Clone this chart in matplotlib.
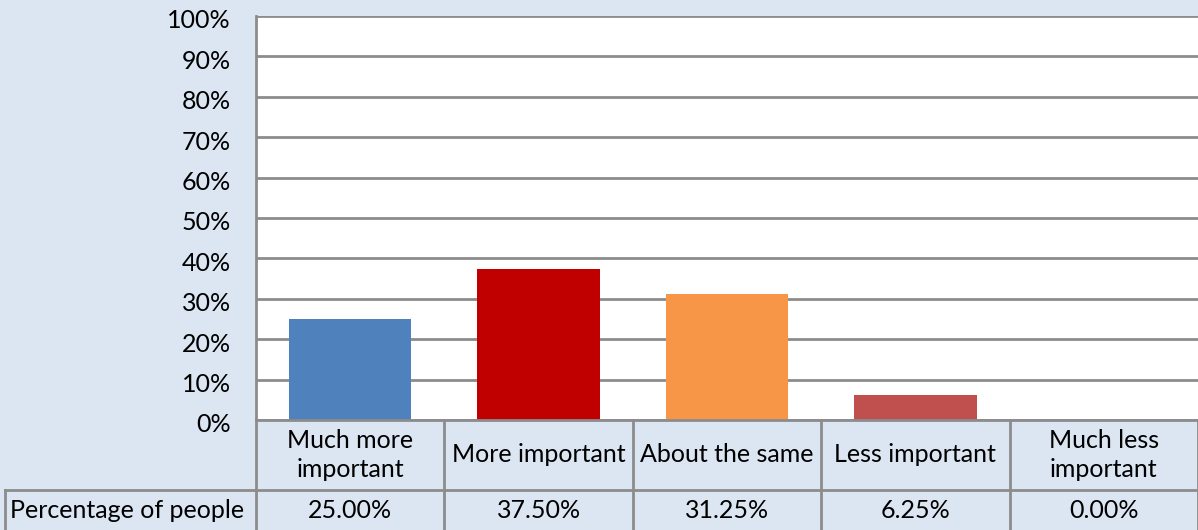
import matplotlib
matplotlib.use("Agg")
import matplotlib.pyplot as plt
import matplotlib.transforms as mtransforms
from matplotlib.lines import Line2D

categories = ["Much more\nimportant", "More important", "About the same", "Less important", "Much less\nimportant"]
values = [25.00, 37.50, 31.25, 6.25, 0.00]
bar_colors = ["#4f81bd", "#c00000", "#f79646", "#c0504d", "#8064a2"]
yticks = [0, 10, 20, 30, 40, 50, 60, 70, 80, 90, 100]
series_name = "Percentage of people"

plt.rcParams['font.family'] = ['Lato', 'DejaVu Sans']

W, H = 1198, 530
bg = "#dce6f2"
grid_c = "#8c8c8c"
fs = 18
fig = plt.figure(figsize=(W/100, H/100), dpi=100, facecolor=bg)

left, right, top, bottom = 256, 1198, 16, 420
ax = fig.add_axes([left/W, 1-bottom/H, (right-left)/W, (bottom-top)/H])
ax.set_facecolor("white")
x = list(range(len(categories)))
ax.bar(x, values, width=0.65, color=bar_colors, zorder=3)
ax.set_xlim(-0.5, len(categories)-0.5)
ax.set_ylim(0, 100)
ax.set_yticks(yticks)
ax.set_yticklabels([f"{v}%" for v in yticks], fontsize=fs)
ax.tick_params(axis='y', length=0, pad=18)
ax.tick_params(axis='x', length=0, labelbottom=False)
ax.yaxis.grid(True, color=grid_c, lw=2, zorder=0)
for s in ["top", "right", "bottom"]:
    ax.spines[s].set_visible(False)
ax.spines["left"].set_color(grid_c)
ax.spines["left"].set_linewidth(2)
shift = mtransforms.ScaledTranslation(0, -3/100, fig.dpi_scale_trans)
for lbl in ax.get_yticklabels():
    lbl.set_transform(lbl.get_transform() + shift)

def fx(px):
    return px / W
def fy(py):
    return 1 - py / H

def hline(x0, x1, y):
    fig.add_artist(Line2D([fx(x0), fx(x1)], [fy(y), fy(y)], color=grid_c, lw=2))
def vline(xp, y0, y1):
    fig.add_artist(Line2D([fx(xp), fx(xp)], [fy(y0), fy(y1)], color=grid_c, lw=2))

col_w = (right - left) / len(categories)
row1_top, row1_bot, row2_bot = 420, 490, 531
hline(left, right, row1_top)
hline(5, right, row1_bot)
vline(5, row1_bot, row2_bot)
for i in range(len(categories) + 1):
    vline(left + i * col_w, row1_top, row2_bot)

for i, (c, v) in enumerate(zip(categories, values)):
    cx = left + (i + 0.5) * col_w
    fig.text(fx(cx), fy((row1_top + row1_bot) / 2), c, ha="center", va="center",
             fontsize=fs, linespacing=1.35)
    fig.text(fx(cx), fy((row1_bot + 530) / 2), f"{v:.2f}%", ha="center", va="center",
             fontsize=fs)
fig.text(fx(10), fy((row1_bot + 530) / 2), series_name, ha="left", va="center", fontsize=fs)

fig.savefig("out.png", dpi=100, facecolor=bg)
